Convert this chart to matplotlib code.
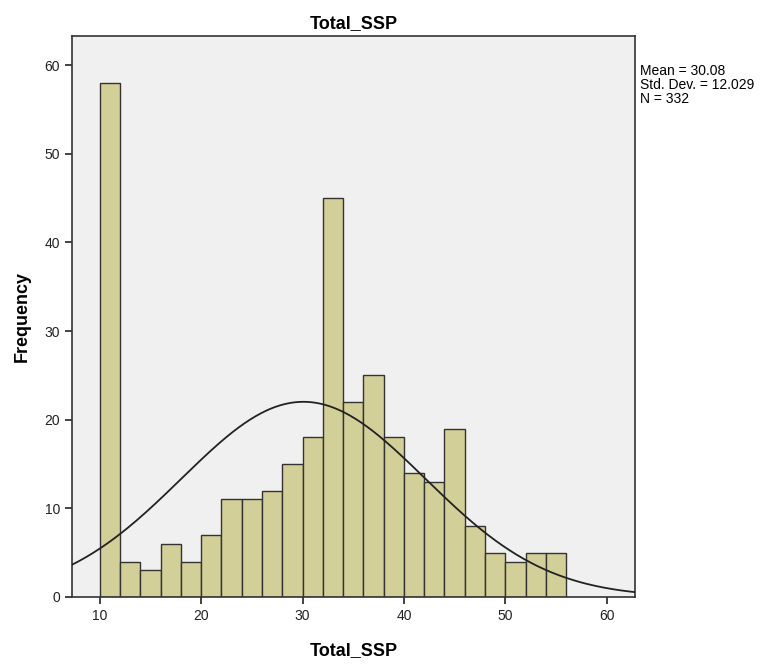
import numpy as np
import matplotlib.pyplot as plt

plt.rcParams['font.family'] = ['Liberation Sans', 'DejaVu Sans']

# histogram bins (width 2) and frequencies
bin_edges = list(range(10, 58, 2))
counts = [58, 4, 3, 6, 4, 7, 11, 11, 12, 15, 18, 45, 22, 25, 18, 14, 13, 19, 8, 5, 4, 5, 5]

mean = 30.08
std = 12.029
n = 332
bin_width = 2

fig = plt.figure(figsize=(7.71, 6.65), dpi=100)
ax = fig.add_axes([0.0934, 0.1023, 0.7302, 0.8436])
ax.set_facecolor('#F0F0F0')

ax.bar(bin_edges[:-1], counts, width=bin_width, align='edge',
       color='#D3CF98', edgecolor='#333333', linewidth=1.0, zorder=2)

# fitted normal curve
x = np.linspace(7.25, 62.8, 400)
y = n * bin_width * np.exp(-0.5 * ((x - mean) / std) ** 2) / (std * np.sqrt(2 * np.pi))
ax.plot(x, y, color='#222222', linewidth=1.3, zorder=3)

ax.set_xlim(7.25, 62.8)
ax.set_ylim(0, 63.3)
ax.set_xticks([10, 20, 30, 40, 50, 60])
ax.set_yticks([0, 10, 20, 30, 40, 50, 60])
ax.tick_params(direction='out', length=5, width=1.2, labelsize=10, colors='#222222')
for s in ax.spines.values():
    s.set_linewidth(1.2)
    s.set_color('#333333')

ax.set_title('Total_SSP', fontsize=13, fontweight='bold', pad=6)
ax.set_xlabel('Total_SSP', fontsize=13, fontweight='bold', labelpad=14)
ax.set_ylabel('Frequency', fontsize=13, fontweight='bold', labelpad=10)

fig.text(640 / 771, 1 - 64 / 665,
         'Mean = %.2f\nStd. Dev. = %.3f\nN = %d' % (mean, std, n),
         fontsize=10, va='top', ha='left', linespacing=1.0)

fig.savefig('out.png', dpi=100)
